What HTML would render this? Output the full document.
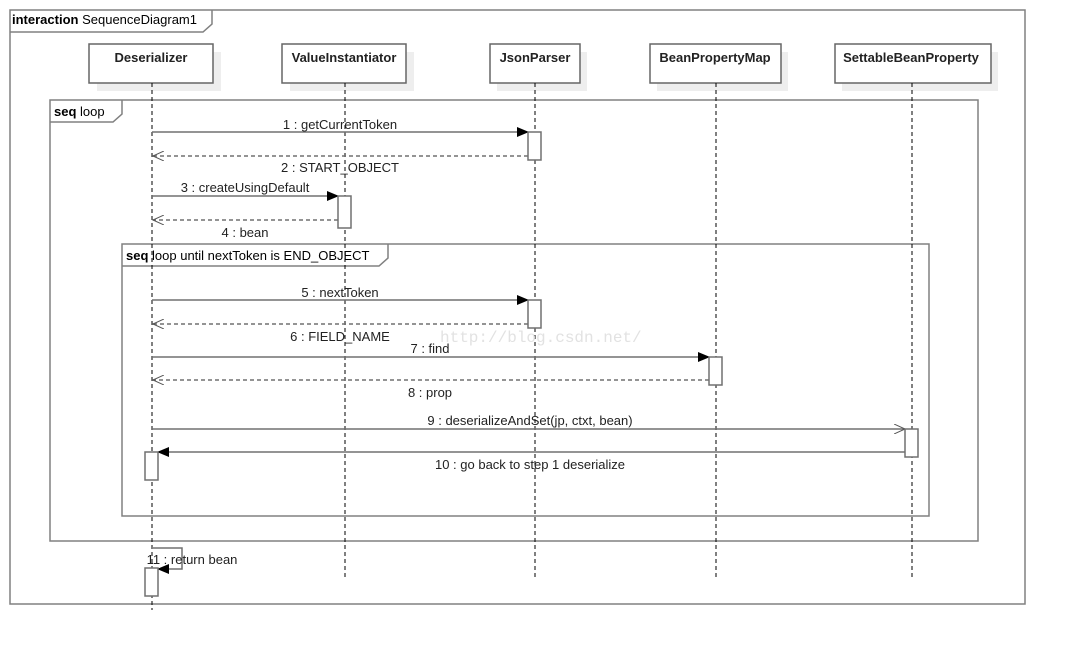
<!DOCTYPE html>
<html><head><meta charset="utf-8"><style>
html,body{margin:0;padding:0;background:#fff;}
svg{display:block;font-family:"Liberation Sans",sans-serif;}
</style></head><body>
<svg width="1066" height="651" viewBox="0 0 1066 651" xmlns="http://www.w3.org/2000/svg">
<defs>
<marker id="fa" markerWidth="12" markerHeight="10" refX="11" refY="5" orient="auto" markerUnits="userSpaceOnUse"><path d="M0,0 L12,5 L0,10 Z" fill="#000"/></marker>
<marker id="oa" markerWidth="12" markerHeight="10" refX="11" refY="5" orient="auto" markerUnits="userSpaceOnUse"><path d="M0,0 L11,5 L0,10" fill="none" stroke="#555" stroke-width="1"/></marker>
</defs>
<g stroke="#808080" stroke-width="1.5" fill="none">
<rect x="10" y="10" width="1015" height="594"/>
<path d="M10,32 H203 L212,24 V10"/>
<rect x="50" y="100" width="928" height="441"/>
<path d="M50,122 H113 L122,114 V100"/>
<rect x="122" y="244" width="807" height="272"/>
<path d="M122,266 H379 L388,258 V244"/>
</g>
<g font-size="13" fill="#000">
<text x="12" y="24"><tspan font-weight="bold">interaction</tspan> SequenceDiagram1</text>
<text x="54" y="116"><tspan font-weight="bold">seq</tspan>  loop</text>
<text x="126" y="260"><tspan font-weight="bold">seq</tspan>  loop until nextToken is END_OBJECT</text>
</g>
<g>
<rect x="97" y="52" width="124" height="39" fill="#eee"/>
<rect x="89" y="44" width="124" height="39" fill="#fff" stroke="#666" stroke-width="1.5"/>
<rect x="290" y="52" width="124" height="39" fill="#eee"/>
<rect x="282" y="44" width="124" height="39" fill="#fff" stroke="#666" stroke-width="1.5"/>
<rect x="497" y="52" width="90" height="39" fill="#eee"/>
<rect x="490" y="44" width="90" height="39" fill="#fff" stroke="#666" stroke-width="1.5"/>
<rect x="657" y="52" width="131" height="39" fill="#eee"/>
<rect x="650" y="44" width="131" height="39" fill="#fff" stroke="#666" stroke-width="1.5"/>
<rect x="842" y="52" width="156" height="39" fill="#eee"/>
<rect x="835" y="44" width="156" height="39" fill="#fff" stroke="#666" stroke-width="1.5"/>
</g>
<g font-size="13" font-weight="bold" text-anchor="middle" fill="#222">
<text x="151" y="62">Deserializer</text>
<text x="344" y="62">ValueInstantiator</text>
<text x="535" y="62">JsonParser</text>
<text x="715" y="62">BeanPropertyMap</text>
<text x="911" y="62">SettableBeanProperty</text>
</g>
<g stroke="#000" stroke-width="1" stroke-dasharray="4,3">
<line x1="152" y1="83" x2="152" y2="610"/>
<line x1="345" y1="83" x2="345" y2="580"/>
<line x1="535" y1="83" x2="535" y2="580"/>
<line x1="716" y1="83" x2="716" y2="580"/>
<line x1="912" y1="83" x2="912" y2="580"/>
</g>
<text x="440" y="342" font-family="Liberation Mono,monospace" font-size="16" fill="#e2e2e2">http://blog.csdn.net/</text>
<g stroke="#707070" stroke-width="1.5" fill="none">
<line x1="152" y1="132" x2="528" y2="132" marker-end="url(#fa)"/>
<line x1="528" y1="156" x2="153" y2="156" stroke-dasharray="4,3" marker-end="url(#oa)"/>
<line x1="152" y1="196" x2="338" y2="196" marker-end="url(#fa)"/>
<line x1="338" y1="220" x2="153" y2="220" stroke-dasharray="4,3" marker-end="url(#oa)"/>
<line x1="152" y1="300" x2="528" y2="300" marker-end="url(#fa)"/>
<line x1="528" y1="324" x2="153" y2="324" stroke-dasharray="4,3" marker-end="url(#oa)"/>
<line x1="152" y1="357" x2="709" y2="357" marker-end="url(#fa)"/>
<line x1="709" y1="380" x2="153" y2="380" stroke-dasharray="4,3" marker-end="url(#oa)"/>
<line x1="152" y1="429" x2="905" y2="429" marker-end="url(#oa)"/>
<line x1="905" y1="452" x2="158" y2="452" marker-end="url(#fa)"/>
<polyline points="153,548 182,548 182,569 158,569" marker-end="url(#fa)"/>
</g>
<g fill="#fff" stroke="#707070" stroke-width="1.5">
<rect x="528" y="132" width="13" height="28"/>
<rect x="338" y="196" width="13" height="32"/>
<rect x="528" y="300" width="13" height="28"/>
<rect x="709" y="357" width="13" height="28"/>
<rect x="905" y="429" width="13" height="28"/>
<rect x="145" y="452" width="13" height="28"/>
<rect x="145" y="568" width="13" height="28"/>
</g>
<g font-size="13" fill="#222" text-anchor="middle">
<text x="340" y="129">1 : getCurrentToken</text>
<text x="340" y="172">2 : START_OBJECT</text>
<text x="245" y="192">3 : createUsingDefault</text>
<text x="245" y="237">4 : bean</text>
<text x="340" y="297">5 : nextToken</text>
<text x="340" y="341">6 : FIELD_NAME</text>
<text x="430" y="353">7 : find</text>
<text x="430" y="397">8 : prop</text>
<text x="530" y="425">9 : deserializeAndSet(jp, ctxt, bean)</text>
<text x="530" y="469">10 : go back to step 1 deserialize</text>
<text x="192" y="564">11 : return bean</text>
</g>
</svg>
</body></html>
